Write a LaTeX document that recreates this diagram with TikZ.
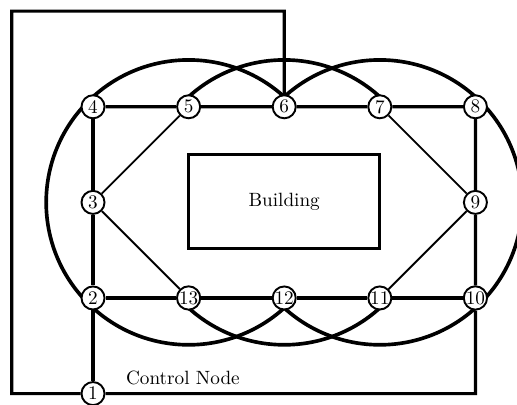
\documentclass[tikz,border=0pt]{standalone}
\usepackage{amsmath, amssymb}
\usepackage{xcolor}
\usepackage{tikz}

\begin{document}
\begin{tikzpicture}[scale=1.75,
    router/.style={circle, draw, line width=1pt, fill=white, inner sep=0pt, minimum size=12pt},
    link/.style={line width=1.6pt},
    diag/.style={line width=1pt},
    cover/.style={line width=1.9pt}]
    \clip (-0.973,-1.119) rectangle (4.435,3.117);

    % Coverage circles of the access points
    \draw[cover] (1,1) ++(45:1.49) arc (45:315:1.49);
    \draw[cover] (2,1) ++(45:1.49) arc (45:135:1.49);
    \draw[cover] (2,1) ++(225:1.49) arc (225:315:1.49);
    \draw[cover] (3,1) ++(-135:1.49) arc (-135:135:1.49);

    % Building in the middle
    \node[draw, line width=1.6pt, minimum width=3.5cm, minimum height=1.72cm] (bldg) at (2,1.01) {Building};

    % Mesh nodes
    \foreach \n/\x/\y in {1/0/-1, 2/0/0, 3/0/1, 4/0/2, 5/1/2, 6/2/2, 7/3/2,
                          8/4/2, 9/4/1, 10/4/0, 11/3/0, 12/2/0, 13/1/0} {
        \node[router] (n\n) at (\x,\y) {\n};
    }
    \node (ctrl) at (0.94,-0.84) {Control Node};

    % Ring links
    \foreach \a/\b in {4/5, 5/6, 6/7, 7/8, 8/9, 9/10, 10/11, 11/12, 12/13, 13/2, 2/3, 3/4, 2/1} {
        \draw[link] (n\a) -- (n\b);
    }

    % Shortcut links
    \foreach \a/\b in {3/5, 3/13, 7/9, 9/11} {
        \draw[diag] (n\a) -- (n\b);
    }

    % Wiring from the control node
    \coordinate (bl) at (-0.85,-1);
    \coordinate (tl) at (-0.85,3);
    \coordinate (tr) at (2,3);
    \coordinate (br) at (4,-1);
    \draw[link] (n1) -- (bl) -- (tl) -- (tr) -- (n6);
    \draw[link] (n1) -- (br) -- (n10);
\end{tikzpicture}
\end{document}
